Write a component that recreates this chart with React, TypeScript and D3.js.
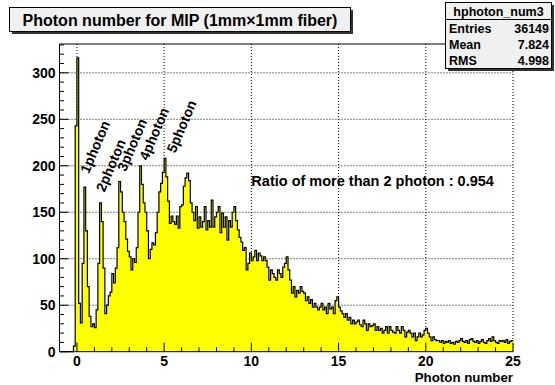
import React from "react";
import * as d3 from "d3";

// Histogram hphoton_num3: 260 bins of width 0.1 from -1 to 25
const binLow = -1;
const binWidth = 0.1;
const counts = [
  0, 0, 0, 0, 0, 0, 0, 0, 6, 243,
  316, 52, 31, 95, 177, 130, 70, 38, 27, 30,
  26, 45, 95, 160, 140, 90, 41, 50, 60, 64,
  84, 74, 90, 112, 183, 172, 150, 140, 121, 108,
  102, 88, 100, 96, 112, 150, 200, 180, 160, 150,
  130, 100, 110, 117, 115, 128, 150, 172, 181, 193,
  208, 188, 162, 138, 146, 140, 137, 146, 133, 156,
  158, 178, 187, 192, 184, 160, 150, 141, 156, 133,
  145, 134, 140, 156, 131, 141, 134, 163, 134, 145,
  150, 156, 128, 149, 134, 145, 120, 141, 134, 150,
  156, 141, 131, 123, 118, 109, 112, 88, 95, 106,
  98, 102, 109, 98, 106, 103, 98, 102, 98, 91,
  77, 88, 84, 80, 77, 88, 84, 80, 91, 95,
  102, 88, 77, 63, 70, 59, 66, 63, 70, 65,
  63, 55, 59, 52, 56, 48, 52, 48, 45, 48,
  52, 45, 48, 41, 52, 46, 48, 41, 55, 59,
  48, 44, 41, 37, 41, 34, 37, 30, 34, 30,
  32, 34, 29, 27, 34, 30, 23, 30, 27, 28,
  30, 23, 27, 23, 25, 20, 23, 27, 20, 27,
  23, 21, 20, 27, 23, 20, 27, 23, 16, 21,
  23, 20, 16, 20, 12, 16, 20, 16, 18, 23,
  25, 20, 16, 12, 16, 13, 12, 12, 10, 12,
  9, 11, 10, 12, 9, 10, 8, 11, 10, 12,
  14, 11, 10, 12, 9, 13, 14, 11, 10, 12,
  9, 11, 13, 10, 9, 12, 14, 11, 16, 12,
  10, 9, 12, 11, 12, 10, 13, 9, 11, 12,
];

const xDomain = [-1, 25];
const yDomain = [0, 331];
const xMajorTicks = [0, 5, 10, 15, 20, 25];
const yMajorTicks = [0, 50, 100, 150, 200, 250, 300];

const titleText = "Photon number for MIP (1mm\u00d71mm fiber)";
const xAxisTitle = "Photon number";

const statsName = "hphoton_num3";
const statsLabels = ["Entries", "Mean", "RMS"];
const statsValues = ["36149", "7.824", "4.998"];

const peakNames = ["1photon", "2photon", "3photon", "4photon", "5photon"];
const peakX = [0.68, 1.58, 2.8, 4.06, 5.64];
const peakY = [191, 171, 193, 205, 213];

const ratioText = "Ratio of more than 2 photon : 0.954";
const ratioPos = [10.0, 178];

const FONT = "'Liberation Sans', Arial, Helvetica, sans-serif";

export default function App() {
  const W = 555;
  const H = 385;
  const x = d3.scaleLinear().domain(xDomain).range([59.5, 513]);
  const y = d3.scaleLinear().domain(yDomain).range([351.7, 44]);

  // step outline: each bin contributes its left and right edge at its height
  const steps: [number, number][] = [];
  counts.forEach((c, i) => {
    const lo = binLow + i * binWidth;
    steps.push([lo, c]);
    steps.push([lo + binWidth, c]);
  });
  const area = d3
    .area<[number, number]>()
    .x((d) => x(d[0]))
    .y0(y(0))
    .y1((d) => y(d[1]));
  const line = d3
    .line<[number, number]>()
    .x((d) => x(d[0]))
    .y((d) => y(d[1]));

  const xMinor = d3.range(-1, 26, 1).filter((v) => !xMajorTicks.includes(v));
  const yMinor = d3.range(0, 331, 10).filter((v) => v % 50 !== 0);

  const x0 = x(xDomain[0]);
  const x1 = x(xDomain[1]);
  const yb = y(0);
  const yt = y(yDomain[1]);

  return (
    <svg
      width={W}
      height={H}
      style={{ position: "absolute", left: 0, top: 0, background: "#fff" }}
      fontFamily={FONT}
    >
      <rect x={0} y={0} width={W} height={H} fill="#fff" />

      {/* grid */}
      <g stroke="#000" strokeWidth={1} strokeDasharray="1 2">
        {xMajorTicks.map((t) => (
          <line key={"gx" + t} x1={x(t)} x2={x(t)} y1={yt} y2={yb} />
        ))}
        {yMajorTicks
          .filter((t) => t > 0)
          .map((t) => (
            <line key={"gy" + t} x1={x0} x2={x1} y1={y(t)} y2={y(t)} />
          ))}
      </g>

      {/* histogram */}
      <path d={area(steps) ?? ""} fill="#ffff00" />
      <path d={line(steps) ?? ""} fill="none" stroke="#000" strokeWidth={1.2} />

      {/* frame */}
      <line x1={x0} x2={x1} y1={yt} y2={yt} stroke="#000" />
      <line x1={x0} x2={x0} y1={yt} y2={yb} stroke="#000" />
      <line x1={x0} x2={x1} y1={yb} y2={yb} stroke="#000" />

      {/* ticks */}
      <g stroke="#000">
        {xMajorTicks.map((t) => (
          <line key={"xt" + t} x1={x(t)} x2={x(t)} y1={yb} y2={yb - 9} />
        ))}
        {xMinor.map((t) => (
          <line key={"xm" + t} x1={x(t)} x2={x(t)} y1={yb} y2={yb - 4.5} />
        ))}
        {yMajorTicks.map((t) => (
          <line key={"yt" + t} x1={x0} x2={x0 + 9} y1={y(t)} y2={y(t)} />
        ))}
        {yMinor.map((t) => (
          <line key={"ym" + t} x1={x0} x2={x0 + 4.5} y1={y(t)} y2={y(t)} />
        ))}
      </g>

      {/* tick labels */}
      <g fontSize={14} fontWeight="bold" fill="#000">
        {xMajorTicks.map((t) => (
          <text key={"xl" + t} x={x(t)} y={366} textAnchor="middle">
            {t}
          </text>
        ))}
        {yMajorTicks.map((t) => (
          <text key={"yl" + t} x={55.5} y={y(t) + 5} textAnchor="end">
            {t}
          </text>
        ))}
      </g>
      <text x={513} y={382} fontSize={13.3} fontWeight="bold" textAnchor="end">
        {xAxisTitle}
      </text>

      {/* peak annotations */}
      <g fontSize={14} fontWeight="bold">
        {peakNames.map((n, i) => (
          <text
            key={n}
            transform={`translate(${x(peakX[i])},${y(peakY[i])}) rotate(-67)`}
          >
            {n}
          </text>
        ))}
      </g>
      <text x={x(ratioPos[0])} y={y(ratioPos[1])} fontSize={14.5} fontWeight="bold">
        {ratioText}
      </text>

      {/* title box */}
      <rect x={12} y={10} width={341} height={24} fill="#333" />
      <rect x={9.5} y={7.5} width={341} height={24} fill="#f0f0f0" stroke="#000" />
      <text x={180} y={25.5} fontSize={16} fontWeight="bold" textAnchor="middle">
        {titleText}
      </text>

      {/* stats box */}
      <rect x={448} y={5} width={106} height={66} fill="#333" />
      <rect x={445.5} y={2.5} width={106} height={66} fill="#f0f0f0" stroke="#000" />
      <line x1={445.5} x2={551.5} y1={19.5} y2={19.5} stroke="#000" />
      <text x={498.5} y={15.5} fontSize={12.5} fontWeight="bold" textAnchor="middle">
        {statsName}
      </text>
      {statsLabels.map((l, i) => (
        <g key={l} fontSize={12.5} fontWeight="bold">
          <text x={449} y={33 + i * 16}>
            {l}
          </text>
          <text x={549} y={33 + i * 16} textAnchor="end">
            {statsValues[i]}
          </text>
        </g>
      ))}
    </svg>
  );
}
